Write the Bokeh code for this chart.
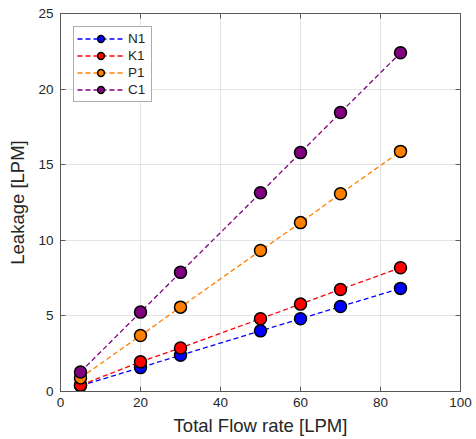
from bokeh.plotting import figure
from bokeh.models import Range1d, FixedTicker, LinearAxis, Legend
from bokeh.embed import file_html
from bokeh.resources import INLINE

flow = [5, 20, 30, 50, 60, 70, 85]
n1 = [0.38, 1.58, 2.40, 4.01, 4.81, 5.62, 6.82]
k1 = [0.42, 1.96, 2.88, 4.81, 5.78, 6.75, 8.19]
p1 = [0.90, 3.70, 5.58, 9.32, 11.17, 13.08, 15.88]
c1 = [1.29, 5.25, 7.88, 13.14, 15.80, 18.45, 22.40]
series_names = ["N1", "K1", "P1", "C1"]
series_values = [n1, k1, p1, c1]
series_colors = ["#0000ff", "#ff0000", "#ff8000", "#800080"]
x_ticks = [0, 20, 40, 60, 80, 100]
y_ticks = [0, 5, 10, 15, 20, 25]

FONT = "Liberation Sans"
TXT = "#262626"

p = figure(width=476, height=439, output_backend="svg", toolbar_location=None,
           x_range=Range1d(0, 100), y_range=Range1d(0, 25),
           min_border_left=60, min_border_right=16, min_border_top=13, min_border_bottom=48)
p.background_fill_color = "white"
p.border_fill_color = "white"
p.outline_line_color = "#5a5a5a"
p.outline_line_width = 1

p.xaxis.ticker = FixedTicker(ticks=x_ticks)
p.yaxis.ticker = FixedTicker(ticks=y_ticks)
p.xaxis.axis_label = "Total Flow rate [LPM]"
p.yaxis.axis_label = "Leakage [LPM]"
for ax in [p.xaxis[0], p.yaxis[0]]:
    ax.axis_line_color = "#5a5a5a"
    ax.major_tick_line_color = "#5a5a5a"
    ax.major_tick_in = 5
    ax.major_tick_out = 0
    ax.minor_tick_line_color = None
    ax.major_label_text_font = FONT
    ax.major_label_text_font_size = "13.5px"
    ax.major_label_text_color = TXT
    ax.axis_label_text_font = FONT
    ax.axis_label_text_font_size = "18.5px"
    ax.axis_label_text_font_style = "normal"
    ax.axis_label_text_color = TXT
    ax.major_label_standoff = 7
    ax.axis_label_standoff = 7
p.xaxis[0].major_label_standoff = 6
p.xaxis[0].axis_label_standoff = 5

for loc, tk in [("right", y_ticks), ("above", x_ticks)]:
    ax = LinearAxis(ticker=FixedTicker(ticks=tk))
    ax.axis_line_color = "#5a5a5a"
    ax.major_tick_line_color = "#5a5a5a"
    ax.major_tick_in = 5
    ax.major_tick_out = 0
    ax.minor_tick_line_color = None
    ax.major_label_overrides = {t: "" for t in tk}
    ax.major_label_standoff = 0
    p.add_layout(ax, loc)

p.xgrid.grid_line_color = "#e3e3e3"
p.ygrid.grid_line_color = "#e3e3e3"

items = []
for name, vals, col in zip(series_names, series_values, series_colors):
    l = p.line(flow, vals, line_color=col, line_width=1.3, line_dash="5 3")
    s = p.scatter(flow, vals, size=12, fill_color=col, line_color="black", line_width=1.5)
    items.append((name, [l, s]))

legend = Legend(items=items, location="top_left")
legend.margin = 13
legend.padding = 3
legend.spacing = 0
legend.glyph_width = 47
legend.glyph_height = 17
legend.label_height = 17
legend.label_standoff = 4
legend.label_text_font = FONT
legend.label_text_font_size = "13.5px"
legend.label_text_color = TXT
legend.border_line_color = "#5a5a5a"
legend.border_line_width = 1
legend.background_fill_color = "white"
legend.background_fill_alpha = 1
p.add_layout(legend, "center")

open("out.html", "w").write(file_html(p, INLINE))
